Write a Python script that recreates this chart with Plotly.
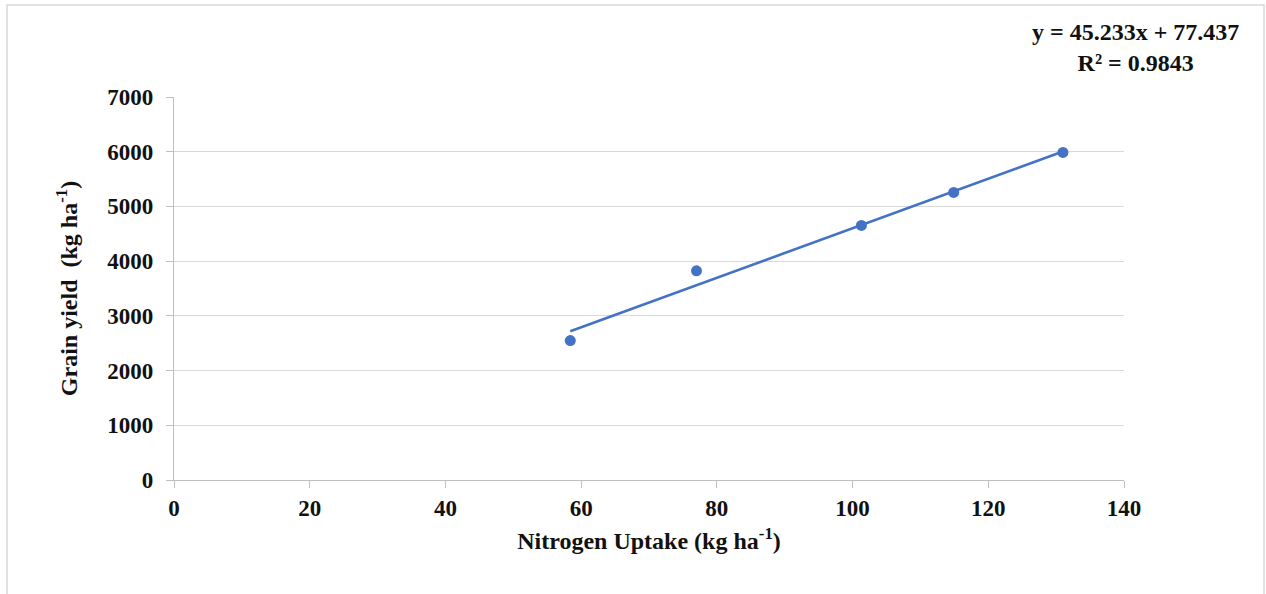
import plotly.graph_objects as go

# Data
nitrogen_uptake = [58.4, 77.0, 101.3, 114.9, 131.0]
grain_yield = [2548, 3823, 4652, 5255, 5987]
slope = 45.233
intercept = 77.437
r_squared = 0.9843
x_ticks = [0, 20, 40, 60, 80, 100, 120, 140]
y_ticks = [0, 1000, 2000, 3000, 4000, 5000, 6000, 7000]

BLUE = "#4472C4"
FONT = "Liberation Serif"
TXT = "#111111"

trend_x = [min(nitrogen_uptake), max(nitrogen_uptake)]
trend_y = [slope * v + intercept for v in trend_x]

fig = go.Figure()
fig.add_trace(go.Scatter(
    x=nitrogen_uptake, y=grain_yield, mode="markers",
    marker=dict(color=BLUE, size=11), showlegend=False, hoverinfo="x+y"))
fig.add_trace(go.Scatter(
    x=trend_x, y=trend_y, mode="lines",
    line=dict(color=BLUE, width=2.6), showlegend=False, hoverinfo="skip"))

tickfont = dict(family=FONT, size=23, color=TXT, weight="bold")
titlefont = dict(family=FONT, size=24, color=TXT, weight="bold")

axis_common = dict(
    showline=True, linecolor="#bfbfbf", linewidth=1.3,
    ticks="outside", ticklen=7, tickcolor="#bfbfbf", tickwidth=1.3,
    zeroline=False, tickfont=tickfont,
)

fig.update_xaxes(
    range=[0, 140], tickvals=x_ticks, ticktext=[str(v) for v in x_ticks],
    showgrid=False, ticklabelstandoff=0,
    title=dict(text="Nitrogen Uptake (kg ha<sup>-1</sup>)", font=titlefont, standoff=12),
    **axis_common)
fig.update_yaxes(
    range=[0, 7000], tickvals=y_ticks, ticktext=[str(v) for v in y_ticks],
    showgrid=True, gridcolor="#d9d9d9", gridwidth=1.3, ticklabelstandoff=8,
    title=dict(text="Grain yield  (kg ha<sup>-1</sup>)", font=titlefont, standoff=22),
    **axis_common)

fig.update_layout(
    width=1266, height=594,
    margin=dict(l=174, r=142, t=97, b=114),
    paper_bgcolor="white", plot_bgcolor="white",
    font=dict(family=FONT, size=23, color=TXT),
    annotations=[
        dict(text=f"y = {slope}x + {intercept}<br>R² = {r_squared}",
             xref="paper", yref="paper", x=1.0126, y=1.13,
             xanchor="center", yanchor="middle", showarrow=False, align="center",
             font=titlefont),
    ],
    shapes=[
        dict(type="rect", xref="paper", yref="paper",
             x0=-0.1758, x1=1.1474, y0=-0.4, y1=1.2405,
             line=dict(color="#d9d9d9", width=1.5), fillcolor="rgba(0,0,0,0)",
             layer="below"),
    ],
)

fig.write_html("out.html")
